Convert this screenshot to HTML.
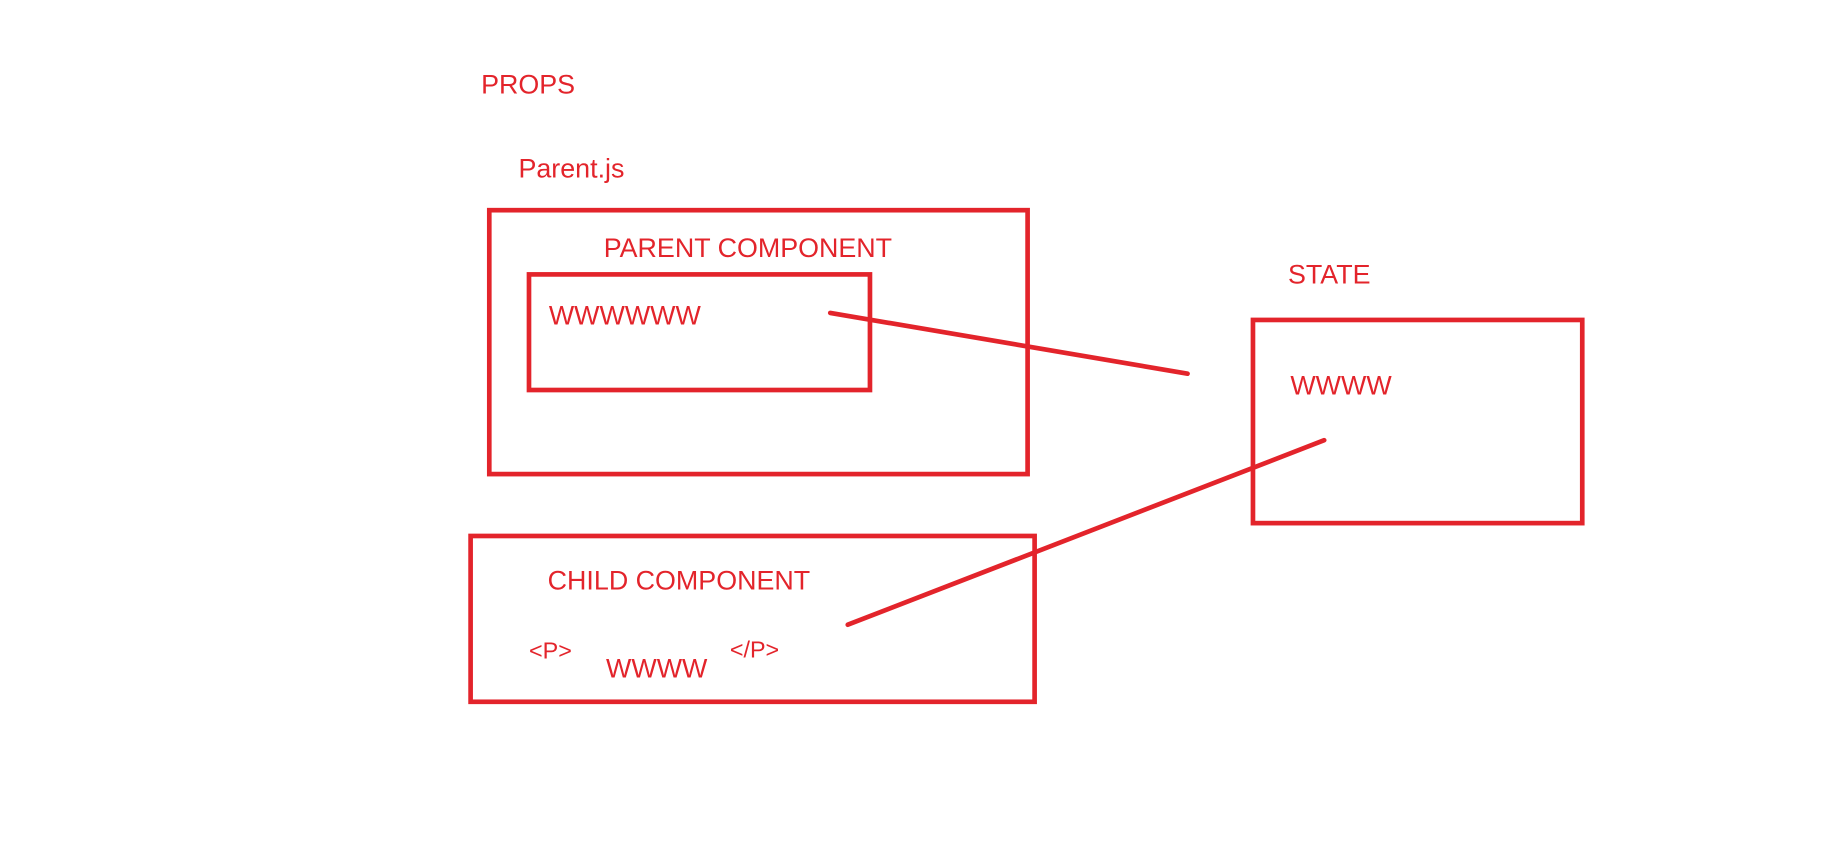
<!DOCTYPE html>
<html><head><meta charset="utf-8"><style>
html,body{margin:0;padding:0;background:#fff;}
svg{display:block}
text{font-family:"Liberation Sans",sans-serif;fill:#e3242b;}
</style></head><body>
<svg width="1831" height="846" viewBox="0 0 1568 724.5" xmlns="http://www.w3.org/2000/svg">
<g fill="none" stroke="#e3242b" stroke-width="4">
<rect x="419" y="180" width="461" height="226"/>
<rect x="453" y="235" width="292" height="99"/>
<rect x="1073" y="274" width="282" height="174"/>
<rect x="403" y="459" width="483" height="142"/>
<line x1="711" y1="268" x2="1017" y2="320" stroke-linecap="round"/>
<line x1="1134" y1="377" x2="726" y2="535" stroke-linecap="round"/>
</g>
<g font-size="23">
<text x="412" y="80">PROPS</text>
<text x="444" y="152">Parent.js</text>
<text x="517" y="220">PARENT COMPONENT</text>
<text x="470" y="278">WWWWWW</text>
<text x="1103" y="243">STATE</text>
<text x="1105" y="338">WWWW</text>
<text x="469" y="505">CHILD COMPONENT</text>
<text x="519" y="580">WWWW</text>
</g>
<g font-size="20">
<text x="453" y="564">&lt;P&gt;</text>
<text x="625" y="563">&lt;/P&gt;</text>
</g>
</svg>
</body></html>
